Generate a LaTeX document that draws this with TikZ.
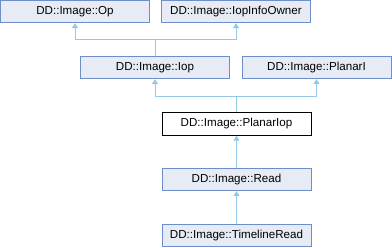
\documentclass[tikz,border=0pt]{standalone}
\usepackage{fontspec}
\setmainfont{Liberation Sans}
\usetikzlibrary{arrows.meta}

\definecolor{boxfill}{HTML}{E7EBF5}
\definecolor{boxline}{HTML}{6E8ECA}
\definecolor{edgeblue}{HTML}{92C8E8}

\begin{document}
\begin{tikzpicture}
[
	x=1pt,y=-1pt,
	classbox/.style={draw=boxline,fill=boxfill,line width=0.9pt,minimum width=149pt,minimum height=22.5pt,inner sep=0pt,font=\fontsize{11.6}{13}\selectfont},
	thisbox/.style={classbox,draw=black,fill=white},
	inherit/.style={draw=edgeblue,line width=1pt,-{Triangle[width=6pt,length=5pt]}}
]

	\useasboundingbox (0,0) rectangle (392,248);

	% classes
	\node[classbox] (op) at (75,11.5) {DD::Image::Op};
	\node[classbox] (infoowner) at (236,11.5) {DD::Image::IopInfoOwner};
	\node[classbox] (iop) at (155,67.5) {DD::Image::Iop};
	\node[classbox] (planari) at (316.5,67.5) {DD::Image::PlanarI};
	\node[thisbox] (planariop) at (236.5,124) {DD::Image::PlanarIop};
	\node[classbox] (read) at (236.5,179.5) {DD::Image::Read};
	\node[classbox] (timeline) at (236.5,235.5) {DD::Image::TimelineRead};

	% inheritance
	\coordinate (jointop) at (155,40);
	\coordinate (jointmid) at (236.5,96.5);
	\draw[inherit] (iop.north) -- (jointop) -| (op.south);
	\draw[inherit] (jointop) -| (infoowner.south);
	\draw[inherit] (planariop.north) -- (jointmid) -| (iop.south);
	\draw[inherit] (jointmid) -| (planari.south);
	\draw[inherit] (read.north) -- (planariop.south);
	\draw[inherit] (timeline.north) -- (read.south);

\end{tikzpicture}
\end{document}
